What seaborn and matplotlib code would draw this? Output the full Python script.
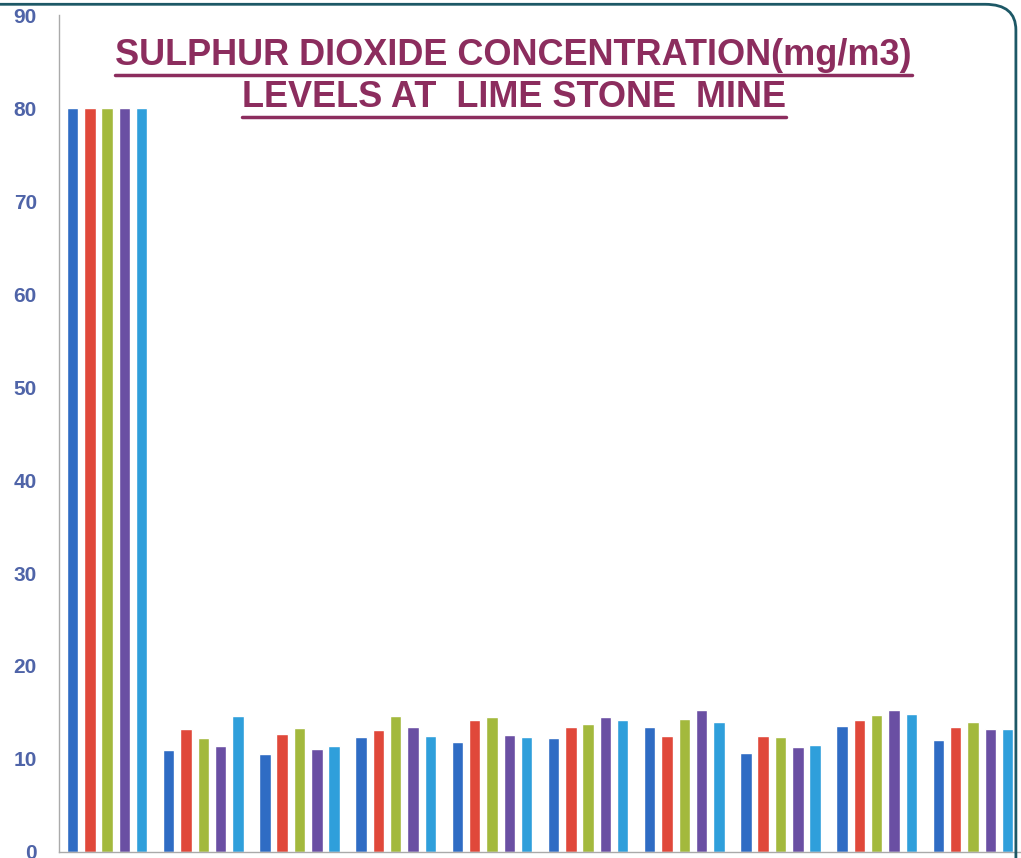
"""
Sulphur dioxide concentration levels at lime stone mine - grouped bar chart
"""
import pandas as pd
import numpy as np
import matplotlib.pyplot as plt
import seaborn as sns
from matplotlib.patches import FancyBboxPatch
from matplotlib.lines import Line2D

# stations along x (labels are cut off in the source)
locations = ['Standard', 'L1', 'L2', 'L3', 'L4', 'L5', 'L6', 'L7', 'L8', 'L9']
series = ['S1', 'S2', 'S3', 'S4', 'S5']

s1 = [80, 11.0, 10.5, 12.4, 11.8, 12.3, 13.4, 10.6, 13.5, 12.0]
s2 = [80, 13.2, 12.7, 13.1, 14.2, 13.4, 12.5, 12.5, 14.2, 13.4]
s3 = [80, 12.3, 13.3, 14.6, 14.5, 13.8, 14.3, 12.4, 14.7, 14.0]
s4 = [80, 11.4, 11.1, 13.4, 12.6, 14.5, 15.3, 11.3, 15.3, 13.2]
s5 = [80, 14.6, 11.4, 12.5, 12.4, 14.2, 14.0, 11.5, 14.8, 13.2]

colors = ['#2f6cc4', '#e0483a', '#a3b93d', '#6a4fa3', '#2f9fdb']
title_color = '#8c2d5e'
tick_color = '#4f64a8'

rows = []
for name, vals in zip(series, [s1, s2, s3, s4, s5]):
    for loc, v in zip(locations, vals):
        rows.append({'location': loc, 'series': name, 'value': v})
df = pd.DataFrame(rows)

sns.set_style('white')
plt.rcParams['font.family'] = ['Liberation Sans', 'DejaVu Sans']

fig = plt.figure(figsize=(10.21, 8.58), dpi=100)
ax = fig.add_axes([0.0578, 0.007, 0.9422, 0.9755])

sns.barplot(data=df, x='location', y='value', hue='series', palette=colors,
            width=0.9, gap=0.34, legend=False, ax=ax, saturation=1)

ax.set_ylim(0, 90)
ax.set_xlim(-0.5, len(locations) - 0.5)
ax.set_yticks(range(0, 91, 10))
ax.set_yticklabels([str(v) for v in range(0, 91, 10)], fontsize=15,
                   fontweight='bold', color=tick_color)
ax.set_xticks(np.arange(-0.5, len(locations), 1.0))
ax.set_xticklabels([])
ax.set_xlabel('')
ax.set_ylabel('')
ax.tick_params(axis='y', length=4, color='#aaaaaa', pad=12)
ax.tick_params(axis='x', length=5, color='#aaaaaa')
for side in ['top', 'right']:
    ax.spines[side].set_visible(False)
for side in ['left', 'bottom']:
    ax.spines[side].set_color('#aaaaaa')
    ax.spines[side].set_linewidth(1)

# rounded chart frame, only the top right corner is visible
frame = FancyBboxPatch((-0.2, -0.2), 1.195, 1.195, boxstyle='round,pad=0,rounding_size=0.03',
                       transform=fig.transFigure, facecolor='none',
                       edgecolor='#1d5866', linewidth=2, clip_on=False)
fig.add_artist(frame)

# underlined two-line title
title_lines = ['SULPHUR DIOXIDE CONCENTRATION(mg/m3)', 'LEVELS AT  LIME STONE  MINE']
title_y = [0.935, 0.886]
fig.canvas.draw()
renderer = fig.canvas.get_renderer()
for txt, y in zip(title_lines, title_y):
    t = fig.text(0.503, y, txt, ha='center', va='center', fontsize=26,
                 fontweight='bold', color=title_color)
    bb = t.get_window_extent(renderer).transformed(fig.transFigure.inverted())
    fig.add_artist(Line2D([bb.x0, bb.x1], [bb.y0 - 0.002, bb.y0 - 0.002],
                          transform=fig.transFigure, color=title_color, linewidth=2.5))

plt.savefig('out.png', dpi=100)
